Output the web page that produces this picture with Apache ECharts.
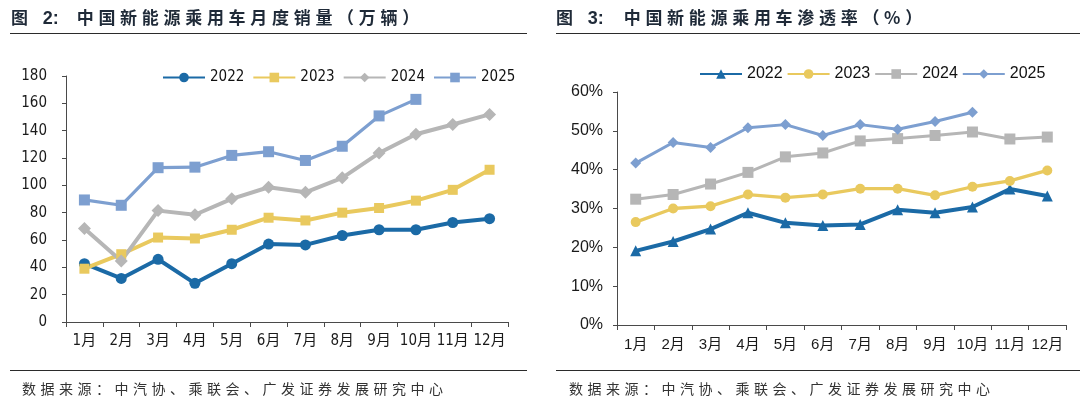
<!DOCTYPE html>
<html>
<head>
<meta charset="utf-8">
<script src="https://cdn.jsdelivr.net/npm/echarts@6/dist/echarts.min.js"></script>
<style>
  html, body { margin: 0; padding: 0; background: #fff; }
  #wrap { position: relative; width: 1080px; height: 402px; overflow: hidden; background: #fff; }
  #c1 { position: absolute; left: 0; top: 0; width: 540px; height: 402px; }
  #c2 { position: absolute; left: 540px; top: 0; width: 540px; height: 402px; }
  .title { position: absolute; top: 6px; font-family: "Noto Sans CJK SC", sans-serif; font-weight: bold; font-size: 17px; line-height: 22px; color: #1f2a38; white-space: nowrap; letter-spacing: 4.7px; }
  .title .num { font-family: "Liberation Sans", Arial, sans-serif; font-weight: bold; letter-spacing: 0; font-size: 18px; }
  .rule { position: absolute; height: 0; border-top: 1.8px solid #2b2b2b; }
  .src { position: absolute; top: 378px; font-family: "Noto Sans CJK SC", sans-serif; font-size: 14px; line-height: 20px; color: #333; white-space: nowrap; letter-spacing: 4.5px; }
</style>
</head>
<body>
<div id="wrap">
  <div id="c1"></div>
  <div id="c2"></div>
  <div class="title" style="left:11px;">图<span class="num" style="margin-left:10px;">2:</span><span style="margin-left:18px;">中国新能源乘用车月度销量（万辆）</span></div>
  <div class="title" style="left:556px;">图<span class="num" style="margin-left:10px;">3:</span><span style="margin-left:20px;">中国新能源乘用车渗透率（%）</span></div>
  <div class="rule" style="left:10px; width:517px; top:33px;"></div>
  <div class="rule" style="left:556px; width:524px; top:33px;"></div>
  <div class="rule" style="left:10px; width:517px; top:370px;"></div>
  <div class="rule" style="left:556px; width:524px; top:370px;"></div>
  <div class="src" style="left:22px;">数据来源：中汽协、乘联会、广发证券发展研究中心</div>
  <div class="src" style="left:569px;">数据来源：中汽协、乘联会、广发证券发展研究中心</div>
</div>
<script>
// ---- data ----
var months = ['1月','2月','3月','4月','5月','6月','7月','8月','9月','10月','11月','12月'];
var years = ['2022','2023','2024','2025'];

// Monthly NEV passenger car sales (10k units)
var sales2022 = [42.7, 31.9, 45.9, 28.3, 42.7, 57.0, 56.4, 63.3, 67.5, 67.5, 72.8, 75.6];
var sales2023 = [39.0, 49.6, 61.8, 61.1, 67.5, 76.3, 74.3, 80.0, 83.4, 88.8, 96.7, 111.4];
var sales2024 = [68.4, 44.7, 81.5, 78.5, 90.1, 98.6, 94.9, 105.5, 123.6, 137.4, 144.5, 151.9];
var sales2025 = [89.3, 85.4, 112.9, 113.3, 121.9, 124.6, 118.2, 128.6, 150.8, 162.9];

// NEV passenger car penetration rate (%)
var pen2022 = [19.1, 21.5, 24.7, 28.9, 26.3, 25.6, 25.9, 29.7, 28.9, 30.4, 35.0, 33.2];
var pen2023 = [26.5, 30.0, 30.6, 33.6, 32.8, 33.6, 35.1, 35.1, 33.4, 35.6, 37.1, 39.8];
var pen2024 = [32.4, 33.6, 36.3, 39.3, 43.3, 44.3, 47.4, 48.0, 48.8, 49.7, 47.9, 48.4];
var pen2025 = [41.7, 47.0, 45.7, 50.8, 51.6, 48.8, 51.6, 50.4, 52.4, 54.8];

var salesTicks = { min: 0, max: 180, interval: 20 };
var penTicks = { min: 0, max: 60, interval: 10 };

// ---- styles ----
var colors = ['#1b6aa6', '#e9c95e', '#b6b6b6', '#7d9fd0'];
var axisColor = '#4a4a4a';
var narrow = '"Liberation Sans Narrow", "DejaVu Sans Condensed", "Noto Sans CJK SC", sans-serif';
var regular = '"Liberation Sans", Arial, "Noto Sans CJK SC", sans-serif';

function mkSeries(name, data, color, symbol, size, width) {
  return {
    name: name, type: 'line', data: data,
    symbol: symbol, symbolSize: size, showSymbol: true,
    lineStyle: { color: color, width: width },
    itemStyle: { color: color, borderWidth: 0 },
    emphasis: { disabled: true },
    animation: false
  };
}

function baseAxes(font, fsize, yTicks, yFmt, labelMargin) {
  return {
    xAxis: {
      type: 'category', data: months, boundaryGap: true,
      axisLine: { show: true, lineStyle: { color: axisColor, width: 1 } },
      axisTick: { show: true, length: 5, inside: false, lineStyle: { color: axisColor } },
      axisLabel: { interval: 0, color: '#1a1a1a', fontFamily: font, fontSize: fsize, margin: 12 },
      splitLine: { show: false }
    },
    yAxis: {
      type: 'value', min: yTicks.min, max: yTicks.max, interval: yTicks.interval,
      axisLine: { show: true, lineStyle: { color: axisColor, width: 1 } },
      axisTick: { show: true, length: 4, inside: false, lineStyle: { color: axisColor } },
      axisLabel: { color: '#1a1a1a', fontFamily: font, fontSize: fsize, margin: labelMargin, formatter: yFmt },
      splitLine: { show: false }
    }
  };
}

// ---- left chart ----
var ax1 = baseAxes(narrow, 15, salesTicks, '{value}', 19);
var chart1 = echarts.init(document.getElementById('c1'), null, { renderer: 'canvas' });
chart1.setOption({
  animation: false,
  grid: { left: 66, width: 442, top: 76, height: 246, containLabel: false },
  legend: {
    data: years, left: 162, top: 70, padding: 0, itemGap: 8, itemWidth: 42, itemHeight: 12,
    textStyle: { fontFamily: narrow, fontSize: 15, color: '#111' }
  },
  xAxis: ax1.xAxis,
  yAxis: ax1.yAxis,
  series: [
    mkSeries(years[0], sales2022, colors[0], 'circle', 11, 4),
    mkSeries(years[1], sales2023, colors[1], 'rect', 10, 4),
    mkSeries(years[2], sales2024, colors[2], 'diamond', 13, 4),
    mkSeries(years[3], sales2025, colors[3], 'rect', 11, 3.2)
  ]
});

// ---- right chart ----
var ax2 = baseAxes(regular, 15, penTicks, '{value}%', 14);
ax2.xAxis.axisLabel.fontSize = 15;
ax2.yAxis.axisLabel.fontSize = 16;
var chart2 = echarts.init(document.getElementById('c2'), null, { renderer: 'canvas' });
chart2.setOption({
  animation: false,
  grid: { left: 77, width: 449, top: 92, height: 233, containLabel: false },
  legend: {
    data: years, left: 159, top: 66, padding: 0, itemGap: 4, itemWidth: 42, itemHeight: 12,
    textStyle: { fontFamily: regular, fontSize: 16, color: '#111' }
  },
  xAxis: ax2.xAxis,
  yAxis: ax2.yAxis,
  series: [
    mkSeries(years[0], pen2022, colors[0], 'triangle', 11, 4),
    mkSeries(years[1], pen2023, colors[1], 'circle', 10, 3.3),
    mkSeries(years[2], pen2024, colors[2], 'rect', 11, 3),
    mkSeries(years[3], pen2025, colors[3], 'diamond', 11, 3)
  ]
});
</script>
</body>
</html>
